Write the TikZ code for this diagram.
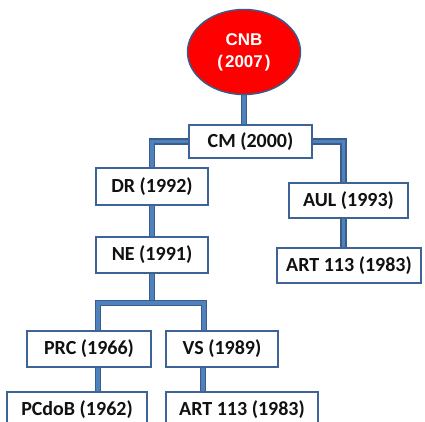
\documentclass[tikz,border=0pt]{standalone}
\usepackage{fontspec}
\setmainfont{Carlito}
\newfontfamily\ovalfont{Liberation Sans}
\usetikzlibrary{shapes.geometric, backgrounds}
\definecolor{ink}{HTML}{111111}
\definecolor{rim}{HTML}{3E6497}
\definecolor{pipe}{HTML}{385D8A}
\definecolor{pipel}{HTML}{4F81BD}
\definecolor{cnbred}{HTML}{FF0000}
\tikzset{box/.style={draw=rim, line width=1.8pt, fill=white, text=ink, inner sep=0pt,
    minimum height=35pt, font=\fontsize{20}{24}\selectfont\bfseries},
  link/.style={draw=pipe, double=pipel, line width=1.6pt, double distance=3.6pt},
  oval/.style={ellipse, draw=pipe, line width=1.5pt, fill=cnbred, text=white, inner sep=0pt,
    align=center, font=\ovalfont\fontsize{17}{22}\selectfont\bfseries}}

\begin{document}
\begin{tikzpicture}[x=1pt, y=-1pt]
  \clip (0,0) rectangle (425,421);
  \node[oval, minimum width=113pt, minimum height=85pt] (cnb) at (244,52) {CNB\\(\kern2pt2007\kern2pt)};
  \node[box, minimum width=123pt, minimum height=33pt] (cm) at (250.5,141.5) {CM (2000)};
  \node[box, minimum width=112pt, minimum height=37pt] (dr) at (152,186.5) {DR (1992)};
  \node[box, minimum width=119pt] (aul) at (348.5,200.5) {AUL (1993)};
  \node[box, minimum width=144pt] (art1) at (349,265.5) {ART 113 (1983)};
  \node[box, minimum width=112pt, minimum height=36pt] (ne) at (152,255) {NE (1991)};
  \node[box, minimum width=124pt, minimum height=36pt] (prc) at (89,349) {PRC (1966)};
  \node[box, minimum width=112pt, minimum height=36pt] (vs) at (222,349) {VS (1989)};
  \node[box, minimum width=140pt] (pcdob) at (77,409.5) {PCdoB (1962)};
  \node[box, minimum width=152pt] (art2) at (242,409.5) {ART 113 (1983)};
  \coordinate (fork) at (152,303);
  % pipes behind the boxes
  \begin{scope}[on background layer]
    \draw[link] (cnb.south) -- (cnb.south |- cm.north);
    \draw[link] (cm.west) -| (dr.north);
    \draw[link] (cm.east) -| ([xshift=-5pt]aul.north);
    \draw[link] ([xshift=-5pt]aul.south) -- ([xshift=-5pt]aul.south |- art1.north);
    \draw[link] (dr.south) -- (ne.north);
    \draw[link] (ne.south) -- (fork);
    \draw[link] (fork) -| ([xshift=9pt]prc.north);
    \draw[link] (fork) -| ([xshift=-18pt]vs.north);
    \draw[link] ([xshift=9pt]prc.south) -- ([xshift=9pt]prc.south |- pcdob.north);
    \draw[link] ([xshift=-19pt]vs.south) -- ([xshift=-19pt]vs.south |- art2.north);
  \end{scope}
\end{tikzpicture}
\end{document}
